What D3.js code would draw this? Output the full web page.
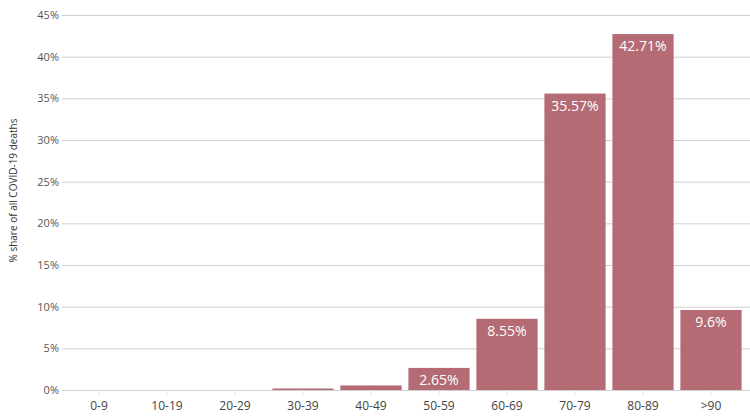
<!DOCTYPE html>
<html>
<head>
<meta charset="utf-8">
<script src="https://cdn.jsdelivr.net/npm/d3@7"></script>
<style>
  body { margin: 0; background: #fff; }
  text { font-family: "Open Sans", "Lato", sans-serif; }
</style>
</head>
<body>
<div id="chart"></div>
<script>
// age groups and their share of deaths (%)
const ageGroups = ["0-9", "10-19", "20-29", "30-39", "40-49", "50-59", "60-69", "70-79", "80-89", ">90"];
const shares = [0, 0, 0, 0.18, 0.55, 2.65, 8.55, 35.57, 42.71, 9.6];
const labels = ["", "", "", "", "", "2.65%", "8.55%", "35.57%", "42.71%", "9.6%"];
const yTicks = [0, 5, 10, 15, 20, 25, 30, 35, 40, 45];

const data = ageGroups.map((g, i) => ({group: g, value: shares[i], label: labels[i]}));

// set the dimensions and margins of the graph
const margin = {top: 15, right: 2, bottom: 30, left: 65},
    width = 750 - margin.left - margin.right,
    height = 420 - margin.top - margin.bottom;

const svg = d3.select("#chart")
  .append("svg")
    .attr("width", 750)
    .attr("height", 420)
  .append("g")
    .attr("transform", `translate(${margin.left}, ${margin.top})`);

// scales
const x = d3.scaleBand()
    .domain(ageGroups)
    .range([0, 680])
    .paddingInner(0.1)
    .paddingOuter(0.05);

const y = d3.scaleLinear()
    .domain([0, 45])
    .range([height, 0]);

// gridlines + y labels
const yAxis = svg.append("g")
    .call(d3.axisLeft(y).tickValues(yTicks).tickFormat(d => d + "%").tickSize(-(width + 3)).tickPadding(6));
yAxis.select(".domain").remove();
yAxis.selectAll(".tick line")
    .attr("x1", -3)
    .attr("stroke", "#cfcfcf");
yAxis.selectAll(".tick text")
    .attr("fill", "#555")
    .style("font-size", "11px");

// x axis
const xAxis = svg.append("g")
    .attr("transform", `translate(0, ${height})`)
    .call(d3.axisBottom(x).tickSize(5).tickPadding(6));
xAxis.select(".domain").remove();
xAxis.selectAll(".tick line").attr("stroke", "#e6e6e6");
xAxis.selectAll(".tick text")
    .attr("fill", "#444")
    .style("font-size", "12px");

// y axis title
svg.append("text")
    .attr("transform", "rotate(-90)")
    .attr("x", -height / 2 + 12)
    .attr("y", -48)
    .attr("text-anchor", "middle")
    .attr("fill", "#333")
    .style("font-size", "10px")
    .text("% share of all COVID-19 deaths");

// bars
svg.append("g")
  .selectAll("rect")
  .data(data)
  .join("rect")
    .attr("x", d => x(d.group))
    .attr("y", d => y(d.value))
    .attr("width", x.bandwidth())
    .attr("height", d => height - y(d.value))
    .attr("fill", "#b46b74");

// value labels inside bars
svg.append("g")
  .selectAll("text")
  .data(data.filter(d => d.label))
  .join("text")
    .attr("x", d => x(d.group) + x.bandwidth() / 2)
    .attr("y", d => y(d.value) + 17)
    .attr("text-anchor", "middle")
    .attr("fill", "#fff")
    .style("font-size", "14px")
    .text(d => d.label);
</script>
</body>
</html>
